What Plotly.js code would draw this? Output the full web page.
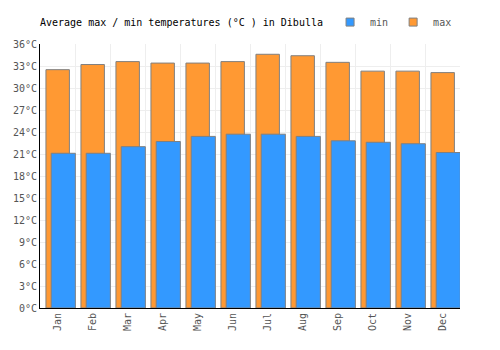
<!DOCTYPE html>
<html>
<head>
<meta charset="utf-8">
<script src="https://cdn.plot.ly/plotly-3.0.1.min.js"></script>
<style>html,body{margin:0;padding:0;background:#fff;}#chart{width:500px;height:350px;}</style>
</head>
<body>
<div id="chart"></div>
<script>
var months = ["Jan","Feb","Mar","Apr","May","Jun","Jul","Aug","Sep","Oct","Nov","Dec"];
var maxTemps = [32.5, 33.2, 33.6, 33.4, 33.4, 33.6, 34.6, 34.4, 33.5, 32.3, 32.3, 32.1];
var minTemps = [21.1, 21.1, 22.0, 22.7, 23.4, 23.7, 23.7, 23.4, 22.8, 22.6, 22.4, 21.2];
var yTicks = [0,3,6,9,12,15,18,21,24,27,30,33,36];

var fontFam = '"DejaVu Sans Mono", monospace';
var minColor = '#3399FF', maxColor = '#FF9933', edge = '#808080';
var traces = [
  {type:'bar', name:'max', x:months, y:maxTemps, width:0.67, offset:-0.33, showlegend:false,
   marker:{color:maxColor, line:{color:edge, width:1}}, hoverinfo:'y'},
  {type:'bar', name:'min', x:months, y:minTemps, width:0.69, offset:-0.18, showlegend:false,
   marker:{color:minColor, line:{color:edge, width:1}}, hoverinfo:'y'},
  // legend entries (small square keys as in the reference)
  {type:'scatter', mode:'markers', name:'max', x:[null], y:[null], showlegend:true,
   marker:{symbol:'square', size:8, color:maxColor, line:{color:edge, width:1}}},
  {type:'scatter', mode:'markers', name:'min', x:[null], y:[null], showlegend:true,
   marker:{symbol:'square', size:8, color:minColor, line:{color:edge, width:1}}}
];
var layout = {
  width:500, height:350,
  margin:{l:40, r:40, t:44, b:42, autoexpand:false},
  paper_bgcolor:'#fff', plot_bgcolor:'#fff',
  barmode:'overlay',
  font:{family:fontFam, size:10, color:'#555'},
  title:{text:'Average max / min temperatures (°C ) in Dibulla', font:{family:fontFam, size:10, color:'#000'},
         x:0.08, xanchor:'left', y:0.937, yanchor:'middle', xref:'container', yref:'container'},
  showlegend:true,
  legend:{orientation:'h', traceorder:'reversed', x:0.993, xanchor:'right', y:1.083, yanchor:'middle',
          font:{family:fontFam, size:10, color:'#555'}, itemwidth:30, bgcolor:'rgba(0,0,0,0)'},
  xaxis:{type:'category', tickangle:-90, showline:true, linecolor:'#000', linewidth:1,
         showgrid:true, gridcolor:'#eeeeee', gridwidth:1, tickson:'boundaries', ticks:'',
         range:[-0.5, 11.5], fixedrange:true},
  yaxis:{range:[0,36], tickvals:yTicks, ticktext:yTicks.map(function(v){return v+'°C';}),
         showline:true, linecolor:'#000', linewidth:1, showgrid:true, gridcolor:'#eeeeee', gridwidth:1,
         zeroline:false, ticks:'', fixedrange:true}
};
Plotly.newPlot('chart', traces, layout, {displayModeBar:false, staticPlot:true});
</script>
</body>
</html>
